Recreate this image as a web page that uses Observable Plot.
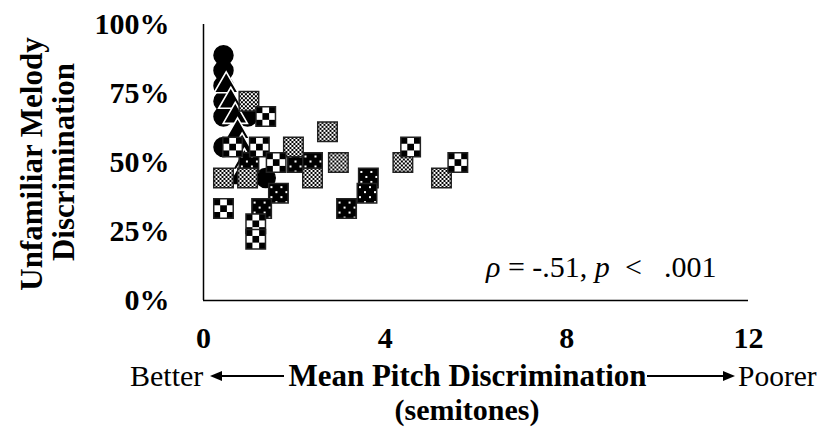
<!DOCTYPE html>
<html><head><meta charset="utf-8">
<script src="https://cdn.jsdelivr.net/npm/d3@7"></script>
<script src="https://cdn.jsdelivr.net/npm/@observablehq/plot@0.6"></script>
<style>body{margin:0;background:#fff;} svg{display:block;}</style>
</head><body><div id="chart"></div>
<script>
// Mean pitch discrimination (semitones) vs unfamiliar melody discrimination (%)
const circleX = [0.44, 0.44, 0.44, 0.44, 0.44, 0.44, 0.97, 1.37];
const circleY = [88.9, 83.3, 77.8, 72.2, 66.7, 55.6, 66.7, 44.4];
const triangleX = [0.5, 0.6, 0.7, 0.75, 0.85, 0.9, 0.8];
const triangleY = [77.8, 72.2, 66.7, 61.1, 55.6, 50.0, 44.4];
const dottedX = [1.0, 2.07, 2.4, 3.63, 3.6, 1.65, 1.28, 3.15];
const dottedY = [50.0, 50.0, 50.0, 44.4, 38.9, 38.9, 33.3, 33.3];
const fineX = [1.0, 0.44, 0.97, 2.4, 2.97, 4.39, 5.24, 2.73, 1.98];
const fineY = [72.2, 44.4, 44.4, 44.4, 50.0, 50.0, 44.4, 61.1, 55.6];
const coarseX = [1.37, 0.64, 1.23, 1.6, 4.56, 5.6, 0.44, 1.15, 1.15];
const coarseY = [66.7, 55.6, 55.6, 50.0, 55.6, 50.0, 33.3, 27.8, 22.2];
const xTicks = [0, 4, 8, 12];
const yTicks = [0, 25, 50, 75, 100];
const yTitle = ["Unfamiliar Melody", "Discrimination"];
const xTitle = "Mean Pitch Discrimination";
const xUnits = "(semitones)";
const leftWord = "Better", rightWord = "Poorer";

const pts = (xs, ys) => xs.map((x, i) => ({x, y: ys[i]}));
const serif = "'Liberation Serif', 'Times New Roman', serif";
const W = 818, H = 427;

const chart = Plot.plot({
  width: W, height: H,
  marginLeft: 203, marginRight: 70, marginTop: 24, marginBottom: 127,
  style: {fontFamily: serif, background: "white", overflow: "visible"},
  x: {domain: [0, 12], label: null},
  y: {domain: [0, 100], label: null},
  marks: [
    Plot.dot(pts(circleX, circleY), {x: "x", y: "y", r: 9.5, fill: "black", stroke: "black"}),
    Plot.dot(pts(triangleX, triangleY), {x: "x", y: "y", symbol: "triangle", r: 9, fill: "black", stroke: "white", strokeWidth: 1.6}),
    Plot.dot(pts(dottedX, dottedY), {x: "x", y: "y", symbol: "square", r: 11, fill: "url(#dotted)", stroke: "#222", strokeWidth: 1.5}),
    Plot.dot(pts(fineX, fineY), {x: "x", y: "y", symbol: "square", r: 11, fill: "url(#fine)", stroke: "#222", strokeWidth: 1.5}),
    Plot.dot(pts(coarseX, coarseY), {x: "x", y: "y", symbol: "square", r: 11, fill: "url(#coarse)", stroke: "#222", strokeWidth: 1.5}),
    Plot.ruleX([0], {stroke: "black", strokeWidth: 1.5}),
    Plot.ruleY([0], {stroke: "black", strokeWidth: 1.5}),
    Plot.axisX({ticks: xTicks, tickSize: 0, tickPadding: 26, fontSize: 30, fontWeight: "bold", label: null}),
    Plot.axisY({ticks: yTicks, tickSize: 0, tickPadding: 34, fontSize: 30, fontWeight: "bold", label: null, tickFormat: d => d + "%"})
  ]
});

const svg = d3.select(chart);
const defs = svg.insert("defs", ":first-child");
// fine checker
const pf = defs.append("pattern").attr("id", "fine").attr("patternUnits", "userSpaceOnUse")
  .attr("x", 0).attr("y", 0).attr("width", 4).attr("height", 4);
pf.append("rect").attr("width", 4).attr("height", 4).attr("fill", "white");
pf.append("rect").attr("width", 2).attr("height", 2).attr("fill", "black");
pf.append("rect").attr("x", 2).attr("y", 2).attr("width", 2).attr("height", 2).attr("fill", "black");
// coarse checker
const pc = defs.append("pattern").attr("id", "coarse").attr("patternUnits", "userSpaceOnUse")
  .attr("x", -10).attr("y", -10).attr("width", 13.4).attr("height", 13.4);
pc.append("rect").attr("width", 13.4).attr("height", 13.4).attr("fill", "white");
pc.append("rect").attr("width", 6.7).attr("height", 6.7).attr("fill", "black");
pc.append("rect").attr("x", 6.7).attr("y", 6.7).attr("width", 6.7).attr("height", 6.7).attr("fill", "black");
// black with white dots
const pd = defs.append("pattern").attr("id", "dotted").attr("patternUnits", "userSpaceOnUse")
  .attr("x", -10).attr("y", -10).attr("width", 10).attr("height", 10);
pd.append("rect").attr("width", 10).attr("height", 10).attr("fill", "black");
pd.append("rect").attr("x", 2).attr("y", 3).attr("width", 2).attr("height", 2).attr("fill", "white");
pd.append("rect").attr("x", 7).attr("y", 8).attr("width", 2).attr("height", 2).attr("fill", "white");

const g = svg.append("g").attr("font-family", serif).attr("fill", "black").attr("text-anchor", "start");
// y title
g.append("text").attr("transform", "translate(42,164) rotate(-90)").attr("text-anchor", "middle")
  .attr("font-size", 31).attr("font-weight", "bold").text(yTitle[0]);
g.append("text").attr("transform", "translate(74,162) rotate(-90)").attr("text-anchor", "middle")
  .attr("font-size", 31).attr("font-weight", "bold").text(yTitle[1]);
// x title line
const by = 386;
g.append("text").attr("x", 130).attr("y", by).attr("text-anchor", "start").attr("font-size", 30).text(leftWord);
g.append("text").attr("x", 467.5).attr("y", by).attr("text-anchor", "middle").attr("font-size", 31).attr("font-weight", "bold").text(xTitle);
g.append("text").attr("x", 738).attr("y", by).attr("text-anchor", "start").attr("font-size", 29.5).text(rightWord);
g.append("text").attr("x", 467).attr("y", 420).attr("text-anchor", "middle").attr("font-size", 30).attr("font-weight", "bold").text(xUnits);
// arrows
const ay = 376;
g.append("line").attr("x1", 220).attr("x2", 284).attr("y1", ay).attr("y2", ay).attr("stroke", "black").attr("stroke-width", 2);
g.append("path").attr("d", `M210,${ay} L222,${ay-5} L222,${ay+5} Z`).attr("fill", "black");
g.append("line").attr("x1", 647).attr("x2", 725).attr("y1", ay).attr("y2", ay).attr("stroke", "black").attr("stroke-width", 2);
g.append("path").attr("d", `M735,${ay} L723,${ay-5} L723,${ay+5} Z`).attr("fill", "black");
// annotation
const ann = g.append("text").attr("x", 486).attr("y", 277).attr("text-anchor", "start").attr("font-size", 30);
ann.append("tspan").attr("font-style", "italic").text("ρ");
ann.append("tspan").text(" = -.51, ");
ann.append("tspan").attr("font-style", "italic").text("p");
ann.append("tspan").attr("x", 625).text("<");
ann.append("tspan").attr("x", 664).text(".001");

document.getElementById("chart").appendChild(chart);
</script>
</body></html>
